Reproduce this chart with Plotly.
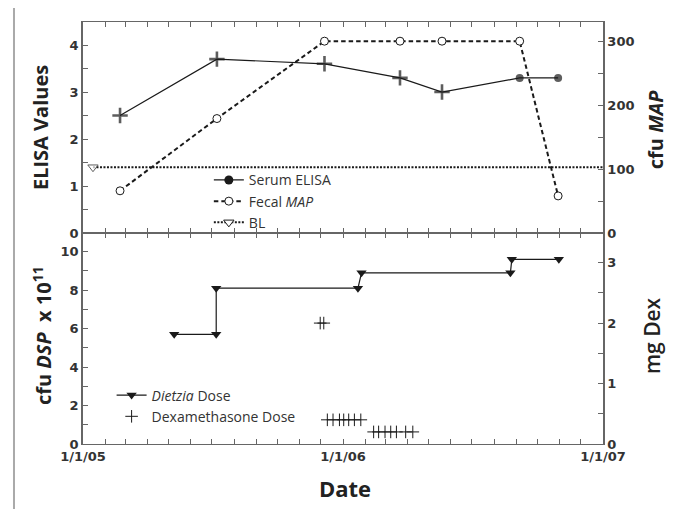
import plotly.graph_objects as go

# ---------------- data ----------------
sample_dates = ['2005-02-22', '2005-07-08', '2005-12-06', '2006-03-22',
                '2006-05-20', '2006-09-06', '2006-10-30']
serum_elisa = [2.5, 3.7, 3.6, 3.3, 3.0, 3.3, 3.3]
serum_symbols = ['cross-thin'] * 5 + ['circle'] * 2
fecal_map = [66, 179, 300, 300, 300, 300, 58]

bl_dates = ['2005-01-15', '2007-01-01']
bl_values = [1.4, 1.4]

dietzia_dates = ['2005-05-09', '2005-07-07', '2005-07-07', '2006-01-22',
                 '2006-01-27', '2006-08-24', '2006-08-26', '2006-10-31']
dietzia_dose = [5.7, 5.7, 8.1, 8.1, 8.9, 8.9, 9.6, 9.6]

dex_dates = ['2005-11-30', '2005-12-05',
             '2005-12-10', '2005-12-18', '2005-12-27', '2006-01-02',
             '2006-01-09', '2006-01-17', '2006-01-26',
             '2006-02-13', '2006-02-20', '2006-03-01', '2006-03-09',
             '2006-03-17', '2006-03-30', '2006-04-09']
dex_mg = [2.0, 2.0,
          0.4, 0.4, 0.4, 0.4, 0.4, 0.4, 0.4,
          0.2, 0.2, 0.2, 0.2, 0.2, 0.2, 0.2]

x_tickvals = ['2005-01-01', '2006-01-01', '2007-01-01']
x_ticktext = ['1/1/05', '1/1/06', '1/1/07']

# ---------------- styles ----------------
INK = '#1a1a1a'
AX = '#666666'
TICKFONT = dict(family='DejaVu Sans', size=13, color='#333333', weight='bold')
LEGFONT = dict(family='Open Sans', size=14, color='#333333')
TITLEFONT = dict(family='Open Sans', size=20, color='#222222')

fig = go.Figure()

# ---- top panel ----
fig.add_trace(go.Scatter(
    x=sample_dates, y=serum_elisa, mode='lines+markers', xaxis='x', yaxis='y',
    line=dict(color=INK, width=1.2),
    marker=dict(symbol=serum_symbols, size=[11] * 5 + [8] * 2, color=INK,
                line=dict(color=INK, width=[2.6] * 5 + [0] * 2)),
    showlegend=False, name='Serum ELISA'))
fig.add_trace(go.Scatter(
    x=[None], y=[None], mode='lines+markers', xaxis='x', yaxis='y',
    line=dict(color=INK, width=1.2),
    marker=dict(symbol='circle', size=9, color=INK),
    name='Serum ELISA', legend='legend'))
fig.add_trace(go.Scatter(
    x=sample_dates, y=fecal_map, mode='lines+markers', xaxis='x', yaxis='y2',
    line=dict(color=INK, width=2, dash='4.5px,3px'),
    marker=dict(symbol='circle', size=8, color='white',
                line=dict(color=INK, width=1)),
    name='Fecal <i>MAP</i>', legend='legend'))
fig.add_trace(go.Scatter(
    x=bl_dates, y=bl_values, mode='lines+markers', xaxis='x', yaxis='y',
    line=dict(color=INK, width=2, dash='2px,1.5px'),
    marker=dict(symbol='triangle-down', size=[9, 0], color='white',
                line=dict(color=INK, width=1)),
    showlegend=False, name='BL'))
fig.add_trace(go.Scatter(
    x=[None], y=[None], mode='lines+markers', xaxis='x', yaxis='y',
    line=dict(color=INK, width=2, dash='2px,1.5px'),
    marker=dict(symbol='triangle-down', size=9, color='white',
                line=dict(color=INK, width=1)),
    name='BL', legend='legend'))

# ---- bottom panel ----
fig.add_trace(go.Scatter(
    x=dietzia_dates, y=dietzia_dose, mode='lines+markers', xaxis='x2', yaxis='y3',
    line=dict(color=INK, width=1.2),
    marker=dict(symbol='triangle-down', size=9, color=INK),
    name='<i>Dietzia</i> Dose', legend='legend2'))
fig.add_trace(go.Scatter(
    x=dex_dates, y=dex_mg, mode='markers', xaxis='x2', yaxis='y4',
    marker=dict(symbol='cross-thin', size=9, color=INK,
                line=dict(color=INK, width=1)),
    name='Dexamethasone Dose', legend='legend2'))

xcommon = dict(
    type='date', range=['2005-01-01', '2007-01-01'],
    showline=True, linecolor=AX, linewidth=1.2, mirror='ticks',
    ticks='inside', ticklen=5, tickcolor=AX, tickwidth=1.2,
    tickvals=x_tickvals, ticktext=x_ticktext,
    minor=dict(dtick='M1', tick0='2005-01-01', ticks='inside', ticklen=5,
               tickcolor=AX, tickwidth=1.2),
    showgrid=False, zeroline=False, tickfont=TICKFONT)

ycommon = dict(showline=True, linecolor=AX, linewidth=1.5,
               ticks='inside', ticklen=5, tickcolor=AX, tickwidth=1.2,
               showgrid=False, zeroline=False, tickfont=TICKFONT)


def title(text, x, y, angle=-90, font=TITLEFONT):
    return dict(text=text, x=x, y=y, xref='paper', yref='paper',
                xanchor='center', yanchor='middle',
                textangle=angle, showarrow=False, font=font)


fig.update_layout(
    width=680, height=509, autosize=False,
    # the page adds an 8px body margin, so the plot is shifted back by 8px
    margin=dict(l=75, r=85, t=14, b=73),
    paper_bgcolor='white', plot_bgcolor='white',
    xaxis=dict(xcommon, anchor='y', showticklabels=False),
    xaxis2=dict(xcommon, anchor='y3'),
    yaxis=dict(ycommon, domain=[0.5, 1], range=[0, 4.49], anchor='x',
               tickvals=[0, 1, 2, 3, 4],
               minor=dict(dtick=0.5, ticks='inside', ticklen=5, tickcolor=AX)),
    yaxis2=dict(ycommon, overlaying='y', side='right', anchor='x',
                range=[0, 330], tickvals=[0, 100, 200, 300],
                minor=dict(dtick=50, ticks='inside', ticklen=5, tickcolor=AX)),
    yaxis3=dict(ycommon, domain=[0, 0.5], range=[0, 10.97], anchor='x2',
                tickvals=[0, 2, 4, 6, 8, 10],
                minor=dict(dtick=1, ticks='inside', ticklen=5, tickcolor=AX)),
    yaxis4=dict(ycommon, overlaying='y3', side='right', anchor='x2',
                range=[0, 3.49], tickvals=[0, 1, 2, 3],
                minor=dict(dtick=0.5, ticks='inside', ticklen=5, tickcolor=AX)),
    legend=dict(x=0.242, y=0.575, xanchor='left', yanchor='middle',
                bgcolor='rgba(0,0,0,0)', font=LEGFONT),
    legend2=dict(x=0.055, y=0.09, xanchor='left', yanchor='middle',
                 bgcolor='rgba(0,0,0,0)', font=LEGFONT),
    shapes=[dict(type='rect', xref='paper', yref='paper',
                 x0=-0.1327, x1=1.3, y0=-0.3, y1=1.0403,
                 line=dict(color='#aaaaaa', width=2), layer='below')],
    annotations=[
        title('<b>ELISA Values</b>', -0.0827, 0.751),
        title('<b>cfu <i>MAP</i></b>', 1.1, 0.746),
        title('<b>cfu <i>DSP</i>  x 10<sup>11</sup></b>', -0.079, 0.258),
        title('mg Dex', 1.094, 0.258,
              font=dict(family='Open Sans', size=21, color='#222222', weight=600)),
        title('<b>Date</b>', 0.504, -0.105, angle=0,
              font=dict(family='Open Sans', size=22, color='#222222')),
    ],
)

fig.write_html('out.html')
